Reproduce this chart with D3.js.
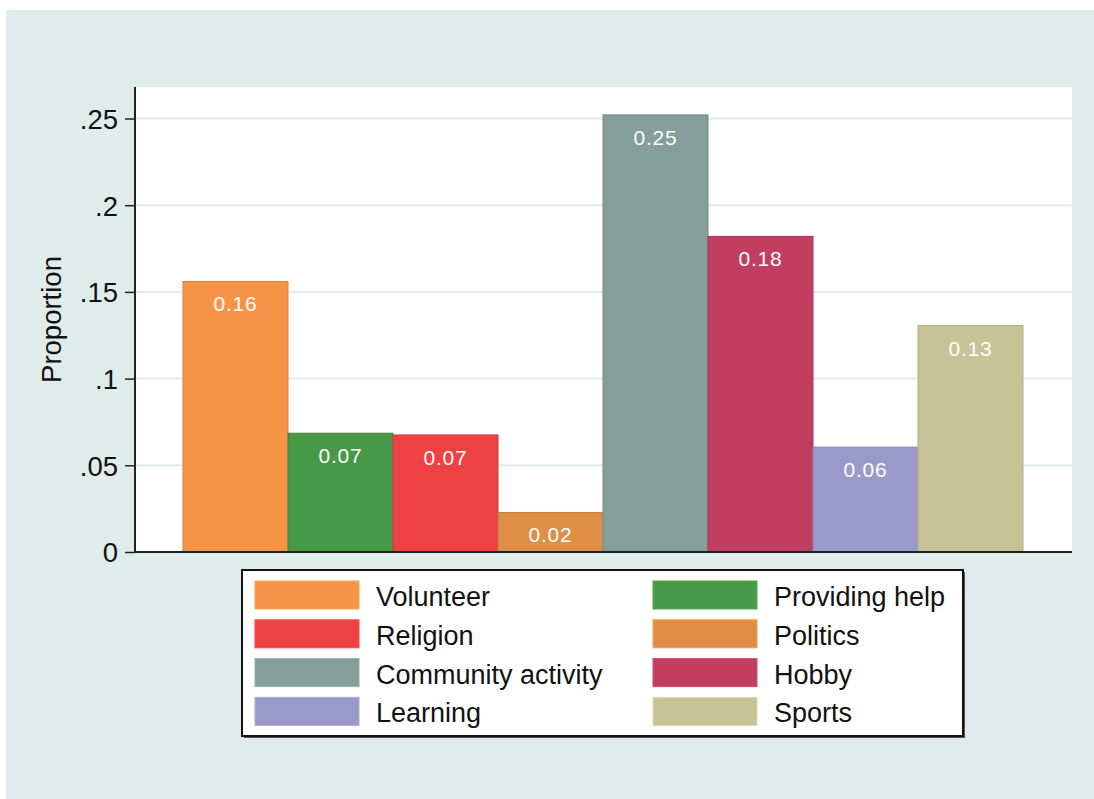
<!DOCTYPE html>
<html>
<head>
<meta charset="utf-8">
<script src="https://cdn.jsdelivr.net/npm/d3@7"></script>
<style>
  body { margin: 0; background: #fff; }
  svg { display: block; font-family: "Liberation Sans", Arial, sans-serif; }
</style>
</head>
<body>
<svg id="chart" width="1094" height="799"></svg>
<script>
const categories = ["Volunteer", "Providing help", "Religion", "Politics", "Community activity", "Hobby", "Learning", "Sports"];
const values = [0.156, 0.0685, 0.0675, 0.0228, 0.2521, 0.182, 0.0605, 0.1306];
const labels = ["0.16", "0.07", "0.07", "0.02", "0.25", "0.18", "0.06", "0.13"];
const colors = ["#f79346", "#489947", "#ef4044", "#df8e47", "#849e99", "#c13e61", "#9a99c9", "#c8c396"];
const yTicks = [0, 0.05, 0.1, 0.15, 0.2, 0.25];
const tickLabels = ["0", ".05", ".1", ".15", ".2", ".25"];

const svg = d3.select("#chart");
const bg = "#e0ecec";

svg.append("rect")
  .attr("x", 6).attr("y", 10)
  .attr("width", 1088).attr("height", 789)
  .attr("fill", bg);

const plot = { left: 135, right: 1072, top: 87, bottom: 552 };

svg.append("rect")
  .attr("x", plot.left).attr("y", plot.top)
  .attr("width", plot.right - plot.left).attr("height", plot.bottom - plot.top)
  .attr("fill", "#fff");

const y = d3.scaleLinear()
  .domain([0, 0.05])
  .range([plot.bottom, plot.bottom - 86.7]);

const x = d3.scaleBand()
  .domain(categories)
  .range([183, 1023])
  .padding(0);

// gridlines
svg.append("g")
  .selectAll("line")
  .data(yTicks.filter(d => d > 0))
  .join("line")
  .attr("x1", plot.left).attr("x2", plot.right)
  .attr("y1", d => y(d)).attr("y2", d => y(d))
  .attr("stroke", bg)
  .attr("stroke-width", 2);

// bars
svg.append("g")
  .selectAll("rect")
  .data(categories)
  .join("rect")
  .attr("x", d => x(d))
  .attr("y", (d, i) => y(values[i]))
  .attr("width", x.bandwidth())
  .attr("height", (d, i) => y(0) - y(values[i]))
  .attr("fill", (d, i) => colors[i])
  .attr("stroke", (d, i) => d3.color(colors[i]).darker(0.35))
  .attr("stroke-width", 1);

// bar labels
svg.append("g")
  .selectAll("text")
  .data(categories)
  .join("text")
  .attr("x", d => x(d) + x.bandwidth() / 2)
  .attr("y", (d, i) => y(values[i]) + 30)
  .attr("text-anchor", "middle")
  .attr("fill", "#fff")
  .attr("font-size", 21)
  .attr("letter-spacing", 0.8)
  .text((d, i) => labels[i]);

// y axis
const yAxis = d3.axisLeft(y)
  .tickValues(yTicks)
  .tickFormat((d, i) => tickLabels[i])
  .tickSize(10)
  .tickPadding(7);

const gy = svg.append("g")
  .attr("transform", `translate(${plot.left},0)`)
  .call(yAxis);
gy.select(".domain").remove();
gy.selectAll(".tick line").attr("stroke", "#222").attr("stroke-width", 1.5);
gy.selectAll(".tick text")
  .attr("font-size", 27.5)
  .attr("font-family", "Liberation Sans, Arial, sans-serif")
  .attr("fill", "#111")
  .attr("dy", "0.36em");

svg.append("line")
  .attr("x1", plot.left).attr("x2", plot.left)
  .attr("y1", plot.top).attr("y2", plot.bottom)
  .attr("stroke", "#222").attr("stroke-width", 2);
svg.append("line")
  .attr("x1", plot.left - 1).attr("x2", plot.right)
  .attr("y1", plot.bottom).attr("y2", plot.bottom)
  .attr("stroke", "#222").attr("stroke-width", 2);

svg.append("text")
  .attr("transform", `translate(61,${(plot.top + plot.bottom) / 2}) rotate(-90)`)
  .attr("text-anchor", "middle")
  .attr("font-size", 27.5)
  .attr("fill", "#111")
  .text("Proportion");

// legend
const legend = svg.append("g");
legend.append("rect")
  .attr("x", 244).attr("y", 572)
  .attr("width", 721).attr("height", 166)
  .attr("fill", "#555");
legend.append("rect")
  .attr("x", 242).attr("y", 570)
  .attr("width", 721).attr("height", 166)
  .attr("fill", "#fff")
  .attr("stroke", "#111")
  .attr("stroke-width", 2);

const items = legend.selectAll("g.item")
  .data(categories)
  .join("g")
  .attr("class", "item")
  .attr("transform", (d, i) => `translate(${i % 2 === 0 ? 255 : 653},${581 + Math.floor(i / 2) * 38.8})`);

items.append("rect")
  .attr("width", 104).attr("height", 28)
  .attr("fill", (d, i) => colors[i])
  .attr("stroke", (d, i) => d3.color(colors[i]).brighter(0.3))
  .attr("stroke-width", 1);

items.append("text")
  .attr("x", 121).attr("y", 25)
  .attr("font-size", 27)
  .attr("fill", "#111")
  .text(d => d);
</script>
</body>
</html>
